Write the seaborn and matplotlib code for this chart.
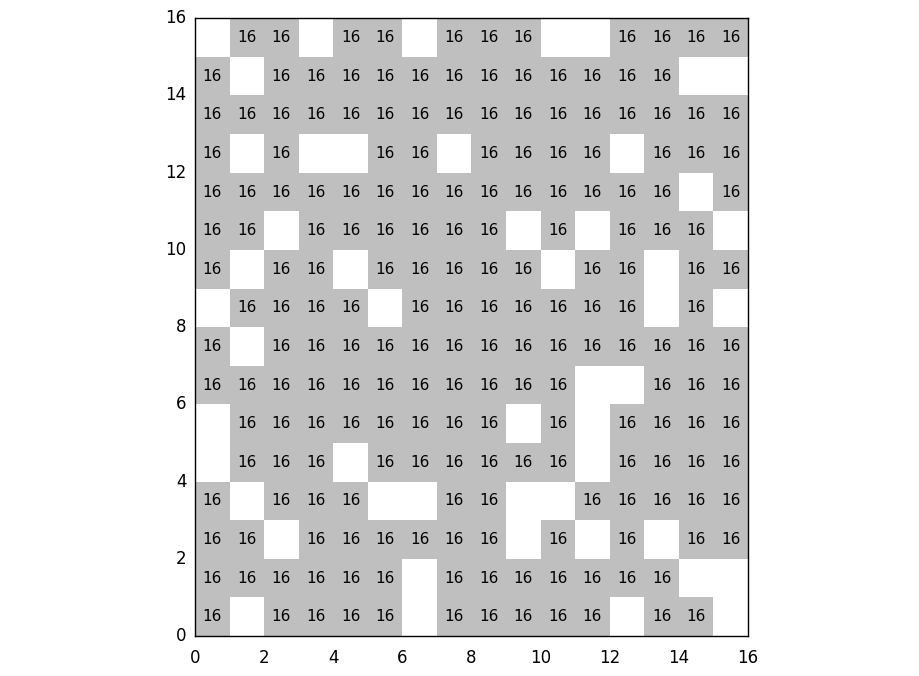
import numpy as np
import pandas as pd
import seaborn as sns
import matplotlib.pyplot as plt
from matplotlib.colors import ListedColormap

# grid values, one list per row, read from top (y=15) down to bottom (y=0)
# None = empty (white) cell
_ = None
row_15 = [_, 16, 16, _, 16, 16, _, 16, 16, 16, _, _, 16, 16, 16, 16]
row_14 = [16, _, 16, 16, 16, 16, 16, 16, 16, 16, 16, 16, 16, 16, _, _]
row_13 = [16, 16, 16, 16, 16, 16, 16, 16, 16, 16, 16, 16, 16, 16, 16, 16]
row_12 = [16, _, 16, _, _, 16, 16, _, 16, 16, 16, 16, _, 16, 16, 16]
row_11 = [16, 16, 16, 16, 16, 16, 16, 16, 16, 16, 16, 16, 16, 16, _, 16]
row_10 = [16, 16, _, 16, 16, 16, 16, 16, 16, _, 16, _, 16, 16, 16, _]
row_9 = [16, _, 16, 16, _, 16, 16, 16, 16, 16, _, 16, 16, _, 16, 16]
row_8 = [_, 16, 16, 16, 16, _, 16, 16, 16, 16, 16, 16, 16, _, 16, _]
row_7 = [16, _, 16, 16, 16, 16, 16, 16, 16, 16, 16, 16, 16, 16, 16, 16]
row_6 = [16, 16, 16, 16, 16, 16, 16, 16, 16, 16, 16, _, _, 16, 16, 16]
row_5 = [_, 16, 16, 16, 16, 16, 16, 16, 16, _, 16, _, 16, 16, 16, 16]
row_4 = [_, 16, 16, 16, _, 16, 16, 16, 16, 16, 16, _, 16, 16, 16, 16]
row_3 = [16, _, 16, 16, 16, _, _, 16, 16, _, _, 16, 16, 16, 16, 16]
row_2 = [16, 16, _, 16, 16, 16, 16, 16, 16, _, 16, _, 16, _, 16, 16]
row_1 = [16, 16, 16, 16, 16, 16, _, 16, 16, 16, 16, 16, 16, 16, _, _]
row_0 = [16, _, 16, 16, 16, 16, _, 16, 16, 16, 16, 16, _, 16, 16, _]

rows_top_down = [row_15, row_14, row_13, row_12, row_11, row_10, row_9, row_8,
                 row_7, row_6, row_5, row_4, row_3, row_2, row_1, row_0]
tick_values = [0, 2, 4, 6, 8, 10, 12, 14, 16]

# bottom row first so that row index == y
df = pd.DataFrame(rows_top_down[::-1], dtype=float)

fig = plt.figure(figsize=(9.2, 6.76), dpi=100)
ax = fig.add_axes([0.212, 0.059, 0.601, 0.914])

sns.heatmap(df, mask=df.isna(), cmap=ListedColormap(['#bfbfbf']),
            annot=True, fmt='.0f', cbar=False, ax=ax,
            annot_kws={'color': 'black', 'fontsize': 11})

ax.set_ylim(0, 16)
ax.set_xlim(0, 16)
ax.set_xticks(tick_values)
ax.set_xticklabels([str(t) for t in tick_values], rotation=0)
ax.set_yticks(tick_values)
ax.set_yticklabels([str(t) for t in tick_values], rotation=0)
ax.tick_params(length=0, labelsize=12)
ax.tick_params(axis='x', pad=9)
ax.tick_params(axis='y', pad=6)
for side in ['left', 'right', 'top', 'bottom']:
    ax.spines[side].set_visible(True)
    ax.spines[side].set_color('black')
    ax.spines[side].set_linewidth(1)

fig.savefig('out.png', dpi=100)
